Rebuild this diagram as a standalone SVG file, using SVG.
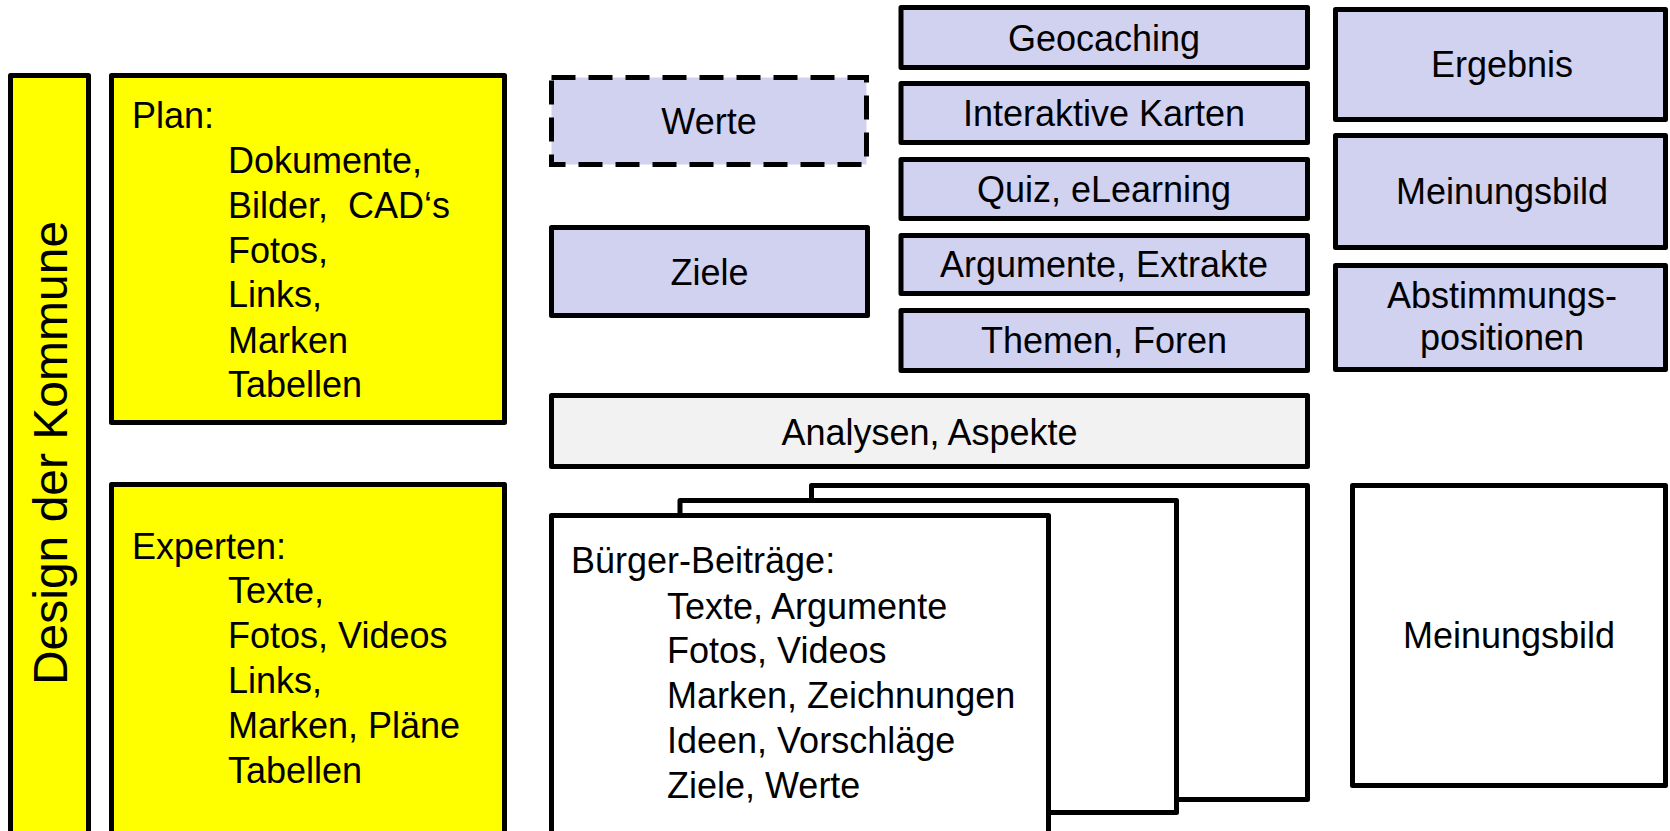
<svg xmlns="http://www.w3.org/2000/svg" width="1670" height="831" viewBox="0 0 1670 831">
<style>
  .box { stroke: #000; stroke-width: 5; stroke-linejoin: round; }
  .yel { fill: #ffff00; }
  .lav { fill: #d1d1f0; }
  .gry { fill: #f2f2f2; }
  .wht { fill: #ffffff; }
  .dash { stroke-dasharray: 24 13; stroke-linejoin: miter; }
  text { font-family: "Liberation Sans", Arial, sans-serif; font-size: 36px; fill: #000; }
  .c { text-anchor: middle; }
</style>
<rect width="1670" height="831" fill="#ffffff"/>
<g id="connectors"/>
<g id="design">
  <rect class="box yel" x="10.5" y="75.5" width="78" height="770"/>
  <text class="c" transform="translate(67 453) rotate(-90)" style="font-size:48px">Design der Kommune</text>
</g>
<g id="plan">
  <rect class="box yel" x="111.5" y="75.5" width="393" height="347"/>
  <text x="132" y="128">Plan:</text>
  <text x="228" y="173">Dokumente,</text>
  <text x="228" y="218" xml:space="preserve">Bilder,  CAD‘s</text>
  <text x="228" y="263">Fotos,</text>
  <text x="228" y="307">Links,</text>
  <text x="228" y="353">Marken</text>
  <text x="228" y="397">Tabellen</text>
</g>
<g id="experten">
  <rect class="box yel" x="111.5" y="484.5" width="393" height="360"/>
  <text x="132" y="559">Experten:</text>
  <text x="228" y="603">Texte,</text>
  <text x="228" y="648">Fotos, Videos</text>
  <text x="228" y="693">Links,</text>
  <text x="228" y="738">Marken, Pläne</text>
  <text x="228" y="783">Tabellen</text>
</g>
<g id="werte">
  <rect class="box lav dash" x="551.5" y="77.5" width="315" height="87"/>
  <text class="c" x="709" y="134">Werte</text>
</g>
<g id="ziele">
  <rect class="box lav" x="551.5" y="227.5" width="316" height="88"/>
  <text class="c" x="709.5" y="285">Ziele</text>
</g>
<g id="geocaching">
  <rect class="box lav" x="901" y="7.5" width="406.5" height="60"/>
  <text class="c" x="1104" y="51">Geocaching</text>
</g>
<g id="karten">
  <rect class="box lav" x="901" y="83.5" width="406.5" height="59"/>
  <text class="c" x="1104" y="126">Interaktive Karten</text>
</g>
<g id="quiz">
  <rect class="box lav" x="901" y="159.5" width="406.5" height="59"/>
  <text class="c" x="1104" y="202">Quiz, eLearning</text>
</g>
<g id="argumente">
  <rect class="box lav" x="901" y="235.5" width="406.5" height="58"/>
  <text class="c" x="1104" y="277">Argumente, Extrakte</text>
</g>
<g id="themen">
  <rect class="box lav" x="901" y="310.5" width="406.5" height="60"/>
  <text class="c" x="1104" y="353">Themen, Foren</text>
</g>
<g id="analysen">
  <rect class="box gry" x="551.5" y="395.5" width="756" height="71"/>
  <text class="c" x="929.5" y="445">Analysen, Aspekte</text>
</g>
<g id="beitraege">
  <rect class="box wht" x="811.5" y="485.5" width="496" height="314"/>
  <rect class="box wht" x="680" y="500.5" width="496.5" height="312"/>
  <rect class="box wht" x="551.5" y="515.5" width="497" height="330"/>
  <text x="571" y="573">Bürger-Beiträge:</text>
  <text x="667" y="619">Texte, Argumente</text>
  <text x="667" y="663">Fotos, Videos</text>
  <text x="667" y="708">Marken, Zeichnungen</text>
  <text x="667" y="753">Ideen, Vorschläge</text>
  <text x="667" y="798">Ziele, Werte</text>
</g>
<g id="ergebnis">
  <rect class="box lav" x="1335.5" y="9.5" width="330" height="110"/>
  <text class="c" x="1502" y="77">Ergebnis</text>
</g>
<g id="meinungsbild1">
  <rect class="box lav" x="1335.5" y="135.5" width="330" height="112"/>
  <text class="c" x="1502" y="204">Meinungsbild</text>
</g>
<g id="abstimmung">
  <rect class="box lav" x="1335.5" y="265.5" width="330" height="104"/>
  <text class="c" x="1502" y="308">Abstimmungs-</text>
  <text class="c" x="1502" y="350">positionen</text>
</g>
<g id="meinungsbild2">
  <rect class="box wht" x="1352.5" y="485.5" width="313" height="300"/>
  <text class="c" x="1509" y="648">Meinungsbild</text>
</g>
</svg>
